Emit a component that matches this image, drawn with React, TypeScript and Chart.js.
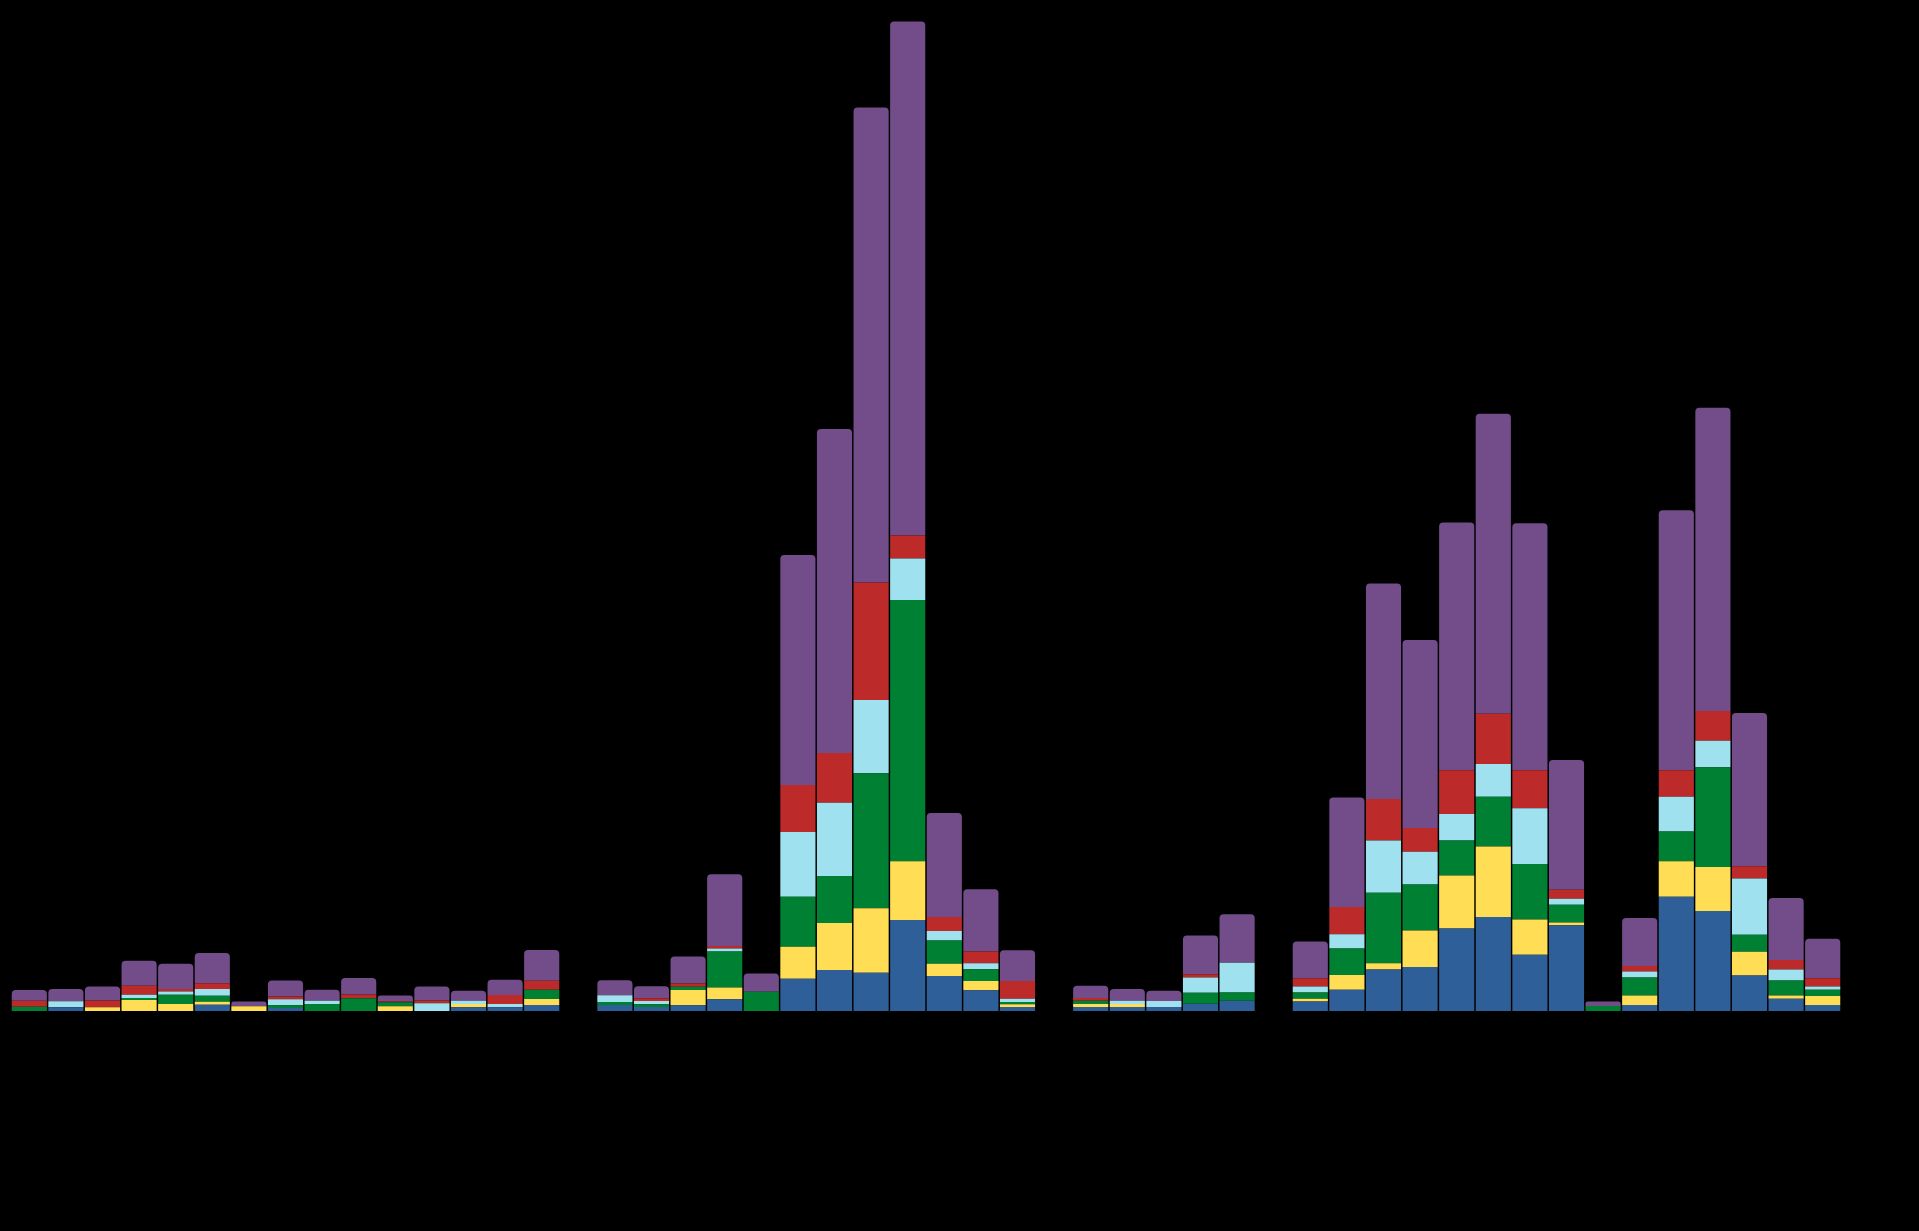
import React, { useEffect, useRef } from "react";
import { Chart, registerables } from "chart.js";

Chart.register(...registerables);

const categories: string[] = Array.from({ length: 50 }, (_, i) => String(i + 1));

const blue = [0, 3.7, 0, 0, 0, 6.3, 0, 3, 0, 0, 0, 0, 3.7, 3.7, 6, null,
  6, 4, 5.7, 11.7, 0, 32.3, 41, 38.3, 91, 35, 20.7, 4, null,
  4, 4, 4, 7.3, 10.2, null,
  9.4, 21.2, 41.6, 44.1, 82.4, 93.9, 56.3, 85.7, 0, 6.1, 114.3, 100, 35.5, 12.2, 6.1];
const yellow = [0, 0, 3.7, 11, 7, 3, 4.7, 0, 0, 0, 4.7, 0, 3.3, 0, 6, null,
  0, 0, 15.3, 11.7, 0, 32, 47, 64.4, 58.7, 12.3, 9.3, 2.7, null,
  2.9, 2.9, 0, 0, 0, null,
  2.9, 14.7, 6.1, 36.3, 53.1, 70.6, 35.1, 2.9, 0, 9.4, 35.5, 44.1, 23.7, 3.3, 9];
const green = [4.3, 0, 0, 2, 9.3, 6, 0, 2.7, 7, 12.7, 4, 0, 0, 0, 9.3, null,
  3, 2.7, 3.3, 36, 19.3, 50, 47, 135, 261.3, 23.3, 11.7, 2.3, null,
  3.3, 0, 0, 11, 8.2, null,
  6.1, 26.5, 70.6, 46.1, 35.1, 49.8, 55.5, 17.6, 4.9, 18, 29.8, 99.6, 17.1, 15.1, 6.1];
const lightBlue = [0, 6, 0, 3.3, 3.3, 6.7, 0, 6, 3.3, 0, 0, 7.7, 3.3, 3.3, 0, null,
  6.7, 3.3, 0, 3, 0, 64.7, 73.3, 73.3, 41.5, 9.3, 6, 3.3, null,
  0, 3.3, 6.1, 15.1, 29.8, null,
  6.1, 14.3, 52.2, 32.7, 26.5, 32.7, 55.9, 6.1, 0, 6.1, 34.7, 26.5, 56.3, 11, 3.3];
const red = [6, 0, 6.7, 9, 2.3, 5.7, 0, 2.7, 0, 3.7, 1, 2.7, 0, 9, 9, null,
  0, 2.7, 3.3, 2.7, 0, 47, 49.7, 117.6, 22.9, 14, 11.7, 17.7, null,
  2.9, 0, 0, 3.3, 0, null,
  8.2, 27.3, 41.6, 23.7, 43.7, 50.2, 38, 9, 0, 5.3, 26.5, 29.8, 12.2, 9.4, 8.2];
const purple = [10.7, 12.3, 14, 25, 25.3, 30.3, 4.7, 16, 11, 16.7, 5.7, 14, 10, 15.3, 30.7, null,
  15, 12, 27, 71.7, 18.3, 230, 324, 475, 514, 104, 62.3, 30.7, null,
  12.2, 11.8, 10.2, 38.8, 48.6, null,
  36.7, 109.4, 215.5, 188.2, 247.8, 300, 246.9, 129.8, 4.5, 48.2, 260, 303.3, 153.1, 62, 39.6];

const seriesNames = ["Series 1", "Series 2", "Series 3", "Series 4", "Series 5", "Series 6"];
const seriesColors = ["#2F5F98", "#FFDD55", "#008033", "#A0E1EF", "#BC2A2A", "#724D8A"];

export default function App() {
  const ref = useRef<HTMLCanvasElement | null>(null);
  useEffect(() => {
    document.body.style.margin = "0";
    document.body.style.background = "#000";
    const ctx = ref.current;
    if (!ctx) return;
    const all = [blue, yellow, green, lightBlue, red, purple];
    const chart = new Chart(ctx, {
      type: "bar",
      data: {
        labels: categories,
        datasets: all.map((d, i) => ({
          label: seriesNames[i],
          data: d,
          backgroundColor: seriesColors[i],
          borderWidth: 0,
          borderRadius: i === 5 ? { topLeft: 4, topRight: 4, bottomLeft: 0, bottomRight: 0 } : 0,
          borderSkipped: false,
          categoryPercentage: 1,
          barPercentage: 0.96,
        })),
      },
      options: {
        animation: false,
        responsive: true,
        maintainAspectRatio: false,
        layout: { padding: { left: 11, right: 78, top: 11, bottom: 220 } },
        plugins: { legend: { display: false }, tooltip: { enabled: false } },
        scales: {
          x: { stacked: true, display: false },
          y: { stacked: true, display: false, min: 0, max: 1000 },
        },
      },
    });
    return () => chart.destroy();
  }, []);
  return (
    <div style={{ width: 1919, height: 1231, background: "#000", position: "relative" }}>
      <canvas ref={ref} />
    </div>
  );
}
